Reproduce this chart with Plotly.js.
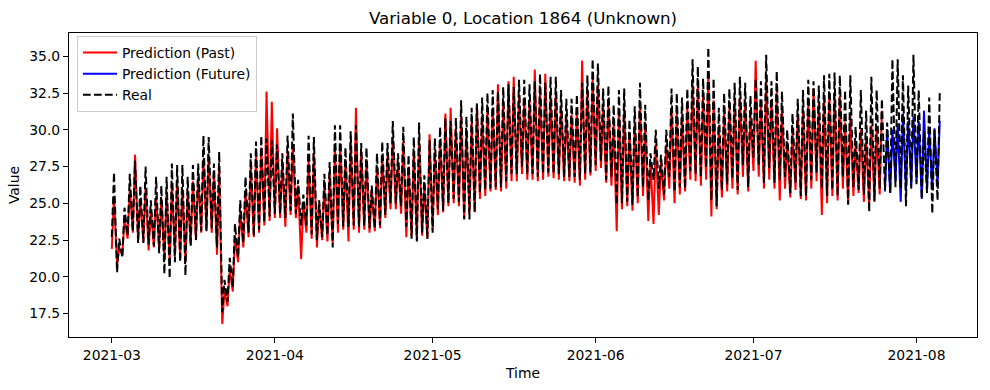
<!DOCTYPE html>
<html>
<head>
<meta charset="utf-8">
<script src="https://cdn.plot.ly/plotly-3.0.1.min.js"></script>
<style>html,body{margin:0;padding:0;background:#fff;}#chart{width:990px;height:390px;}</style>
</head>
<body>
<div id="chart"></div>
<script>
// ---- data (daily trough / peak values) ----
const startDay = '2021-03-01';
const futureStartIndex = 147;          // day index where the future prediction begins
const realLow = [22.7,20.3,21.3,22.8,23.1,22.3,22.3,22.2,22.1,21.6,
20.2,19.9,21.0,21.0,20.1,22.1,22.5,23.1,23.1,23.3,
22.0,17.6,18.3,19.3,21.3,22.3,23.0,22.8,23.2,23.7,
24.1,24.3,24.3,24.0,24.5,24.3,23.5,23.5,22.9,22.5,
22.7,22.8,22.0,23.6,23.4,23.4,23.5,23.4,23.5,23.3,
23.3,23.5,24.2,25.0,25.0,24.8,23.4,22.6,22.4,23.0,
22.6,23.0,24.6,24.5,25.0,25.3,25.1,23.9,23.9,24.4,
25.7,25.9,26.0,26.1,26.1,26.5,27.0,27.0,27.5,27.0,
27.0,26.8,27.0,27.1,27.0,27.0,26.8,26.8,26.8,26.6,
27.0,27.1,27.6,27.9,26.6,26.8,24.9,25.0,25.1,24.9,
25.4,26.1,25.2,26.6,26.0,25.6,26.8,25.8,26.1,26.0,
27.2,27.0,26.8,27.4,25.2,24.8,25.9,26.3,26.7,25.9,
27.6,26.1,28.1,27.6,26.4,27.4,26.4,26.6,26.8,25.7,
26.4,25.5,25.5,26.6,27.1,26.0,25.5,25.9,25.5,26.8,
24.9,26.1,25.9,25.6,24.4,25.1,26.0,25.9,25.7,26.1,
26.0,24.8,26.0,26.3,25.3,25.7,24.3,25.2];
const realHigh = [27.1,22.6,24.7,27.0,27.9,26.2,27.5,25.2,26.8,26.2,
26.8,27.7,27.6,27.6,26.8,27.6,27.7,29.6,29.5,27.7,
28.5,19.8,21.3,23.6,25.2,26.8,28.4,29.2,29.6,29.4,
29.3,29.0,28.4,29.6,31.1,26.6,25.6,29.6,29.5,25.2,
27.0,27.8,30.3,30.3,28.8,29.9,30.3,29.1,28.8,26.2,
28.4,29.2,29.1,30.6,28.4,30.2,28.3,29.5,30.5,26.9,
29.3,29.4,30.2,30.8,30.6,30.8,32.0,30.9,31.5,31.8,
32.2,32.5,32.7,32.6,32.9,33.1,32.9,33.4,33.4,33.1,
33.3,33.8,33.2,33.6,33.6,32.7,32.1,32.1,32.4,33.2,
33.7,34.8,34.5,32.8,33.0,31.7,32.7,32.8,30.7,31.6,
33.2,31.7,28.4,30.0,28.3,30.0,32.8,32.5,32.2,32.8,
34.8,34.3,33.5,35.6,33.5,31.5,32.5,32.8,33.2,33.6,
33.2,32.3,33.5,33.3,35.1,33.3,34.0,32.6,30.0,31.1,
32.1,32.7,33.4,33.3,33.0,33.7,33.8,33.9,33.7,32.7,
33.7,30.2,32.7,31.3,33.6,32.7,32.1,30.5,34.8,34.8,
33.7,33.0,35.1,32.7,29.9,32.2,30.0,32.5];
const pastLow = [21.9,20.8,21.5,22.6,23.0,22.5,22.4,21.8,22.0,22.0,
21.3,21.0,21.5,21.3,21.0,22.2,22.5,23.0,23.2,23.0,
21.5,16.8,18.0,19.0,21.0,22.0,22.7,22.7,23.0,23.5,
23.8,24.0,24.0,23.4,24.2,24.0,21.2,23.0,22.6,22.0,
22.5,22.4,22.2,23.0,23.2,22.4,23.2,23.0,23.2,23.0,
23.1,23.3,24.0,24.6,24.6,24.3,22.7,22.8,22.5,22.8,
22.6,23.2,24.2,24.4,24.8,25.0,24.8,24.0,24.4,24.4,
25.3,25.5,25.8,25.9,25.8,26.0,26.5,26.5,27.0,26.6,
26.6,26.5,26.6,26.8,26.7,26.6,26.5,26.5,26.4,26.2,
26.6,26.9,27.2,27.4,26.4,26.2,23.1,24.6,24.8,24.5,
25.0,25.5,23.8,23.6,24.2,25.2,26.0,25.0,25.6,25.8,
26.6,26.5,26.2,26.6,24.1,24.6,25.4,25.8,26.0,25.6,
26.8,25.8,27.2,26.8,26.0,26.6,26.0,25.2,26.0,25.4,
25.9,25.3,25.2,26.0,26.5,24.2,25.0,25.5,25.2,26.0,
25.0,25.5,25.7,25.1,24.9,25.2,25.6];
const pastHigh = [25.5,22.0,24.0,26.0,28.3,25.3,26.0,24.6,25.5,25.3,
25.8,26.3,26.5,26.0,25.8,26.5,26.8,28.0,28.3,27.0,
27.3,19.0,20.5,22.8,24.5,25.8,27.5,28.3,28.8,32.6,
31.9,30.1,27.8,28.5,29.0,26.2,25.0,28.0,28.3,25.0,
26.3,27.0,28.8,29.0,28.0,29.2,31.5,28.5,28.0,25.8,
27.5,28.3,28.2,29.5,27.8,29.2,27.5,28.5,29.3,26.3,
29.7,28.5,29.3,31.1,31.5,30.0,30.8,30.0,30.5,31.7,
31.0,31.3,31.5,33.1,31.8,33.3,33.6,32.3,32.2,32.0,
34.1,32.5,33.8,32.3,32.4,31.6,31.0,31.0,31.3,34.7,
32.5,33.5,33.0,31.6,31.8,30.5,31.4,31.5,29.8,30.5,
31.8,30.5,27.8,29.0,27.8,29.0,31.5,31.2,31.0,31.5,
33.2,33.0,32.3,33.8,32.0,30.3,31.2,31.5,32.0,32.2,
32.0,31.2,34.7,32.0,33.5,32.0,32.6,31.4,29.2,30.0,
31.0,31.4,32.0,32.8,31.8,32.3,32.4,32.4,32.3,30.5,
31.0,29.0,30.0,29.5,30.3,30.0,31.3];
const futureLow  = [25.8,25.7,26.5,25.1,25.9,26.2,26.5,25.3,26.0,25.9,26.3];
const futureHigh = [30.0,30.0,30.4,31.1,30.6,30.9,30.6,31.3,30.0,30.1,30.6];
const monthTicks = ['2021-03-01','2021-04-01','2021-05-01','2021-06-01','2021-07-01','2021-08-01'];
const monthLabels = ['2021-03','2021-04','2021-05','2021-06','2021-07','2021-08'];
const valueTicks = [17.5,20.0,22.5,25.0,27.5,30.0,32.5,35.0];
const valueLabels = ['17.5','20.0','22.5','25.0','27.5','30.0','32.5','35.0'];

// ---- build time series: trough at 00:00, peak at 10:00 of each day ----
const base = Date.parse(startDay + 'T00:00:00Z');
function stamp(day, hour) {
  return new Date(base + (day * 24 + hour) * 3600000).toISOString().slice(0, 16).replace('T', ' ');
}
function series(lows, highs, offset) {
  const x = [], y = [];
  for (let i = 0; i < lows.length; i++) {
    x.push(stamp(offset + i, 0));  y.push(lows[i]);
    x.push(stamp(offset + i, 10)); y.push(highs[i]);
  }
  return {x, y};
}
const past = series(pastLow, pastHigh, 0);
const fut = series(futureLow, futureHigh, futureStartIndex);
const real = series(realLow, realHigh, 0);

const font = 'DejaVu Sans, Liberation Sans, sans-serif';
const traces = [
  {x: past.x, y: past.y, type: 'scatter', mode: 'lines', name: 'Prediction (Past)',
   line: {color: '#ff0000', width: 2}},
  {x: fut.x, y: fut.y, type: 'scatter', mode: 'lines', name: 'Prediction (Future)',
   line: {color: '#0000ff', width: 2}},
  {x: real.x, y: real.y, type: 'scatter', mode: 'lines', name: 'Real',
   line: {color: '#000000', width: 2, dash: '7.7px,3.3px'}}
];

const axisCommon = {
  showline: true, mirror: true, linecolor: '#000', linewidth: 1,
  ticks: 'outside', ticklen: 5, tickwidth: 1, tickcolor: '#000',
  showgrid: false, zeroline: false, automargin: false,
  tickfont: {family: font, size: 13.9, color: '#000'}
};
const layout = {
  width: 990, height: 390,
  margin: {l: 69, r: 13, t: 33, b: 53, pad: 0},
  paper_bgcolor: '#fff', plot_bgcolor: '#fff',
  font: {family: font, color: '#000'},
  title: {text: 'Variable 0, Location 1864 (Unknown)', font: {family: font, size: 16.7, color: '#000'},
          x: 0.5, xref: 'paper', y: 1 - 18 / 390, yref: 'container', yanchor: 'middle'},
  xaxis: Object.assign({}, axisCommon, {
    type: 'date', range: ['2021-02-20 20:38', '2021-08-12 12:00'],
    tickvals: monthTicks, ticktext: monthLabels,
    title: {text: 'Time', font: {family: font, size: 13.9, color: '#000'}, standoff: 6}
  }),
  yaxis: Object.assign({}, axisCommon, {
    range: [15.91, 36.58], tickvals: valueTicks, ticktext: valueLabels,
    title: {text: 'Value', font: {family: font, size: 13.9, color: '#000'}, standoff: 6}
  }),
  showlegend: true,
  legend: {x: 0.0088, y: 0.99, xanchor: 'left', yanchor: 'top', itemwidth: 34,
           bgcolor: 'rgba(255,255,255,0.8)', bordercolor: '#cccccc', borderwidth: 1,
           font: {family: font, size: 13.9, color: '#000'}, tracegroupgap: 0}
};
Plotly.newPlot('chart', traces, layout, {displayModeBar: false, staticPlot: true});
</script>
</body>
</html>
